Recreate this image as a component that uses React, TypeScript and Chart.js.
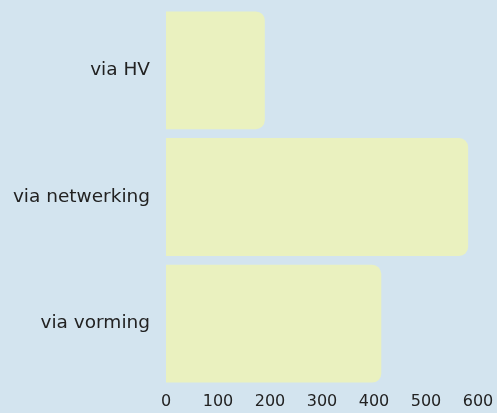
import React, { useEffect, useRef } from "react";
import { Chart, registerables } from "chart.js";

Chart.register(...registerables);

const categories = ["via HV", "via netwerking", "via vorming"];
const values = [190, 581, 414];
const xTicks = [0, 100, 200, 300, 400, 500, 600];

export default function App() {
  const ref = useRef<HTMLCanvasElement | null>(null);

  useEffect(() => {
    document.body.style.margin = "0";
    document.body.style.background = "#d3e4ef";
    const ctx = ref.current!;
    const chart = new Chart(ctx, {
      type: "bar",
      data: {
        labels: categories,
        datasets: [
          {
            data: values,
            backgroundColor: "#eaf1bf",
            borderRadius: 9,
            borderSkipped: "start",
            barPercentage: 0.93,
            categoryPercentage: 1,
          },
        ],
      },
      options: {
        indexAxis: "y",
        animation: false,
        responsive: false,
        maintainAspectRatio: false,
        layout: { padding: { top: 7, right: 0, bottom: 0, left: 0 } },
        plugins: { legend: { display: false }, tooltip: { enabled: false } },
        scales: {
          x: {
            min: xTicks[0],
            max: xTicks[xTicks.length - 1],
            afterBuildTicks: (scale: any) => {
              scale.ticks = xTicks.map((v) => ({ value: v }));
            },
            afterFit: (scale: any) => {
              scale.height = 26;
              scale.paddingRight = 19;
            },
            grid: { display: false },
            border: { display: false },
            ticks: {
              color: "#222222",
              font: { family: "'DejaVu Sans', sans-serif", size: 16 },
              padding: -3,
              maxRotation: 0,
              autoSkip: false,
            },
          },
          y: {
            grid: { display: false },
            border: { display: false },
            afterFit: (scale: any) => {
              scale.width = 166;
              scale.paddingTop = 0;
              scale.paddingBottom = 0;
            },
            ticks: {
              color: "#222222",
              font: { family: "'DejaVu Sans', sans-serif", size: 18.5 },
              padding: 8,
            },
          },
        },
      },
    });
    return () => chart.destroy();
  }, []);

  return (
    <div style={{ width: 497, height: 413, background: "#d3e4ef" }}>
      <canvas ref={ref} width={497} height={413} style={{ display: "block" }} />
    </div>
  );
}
